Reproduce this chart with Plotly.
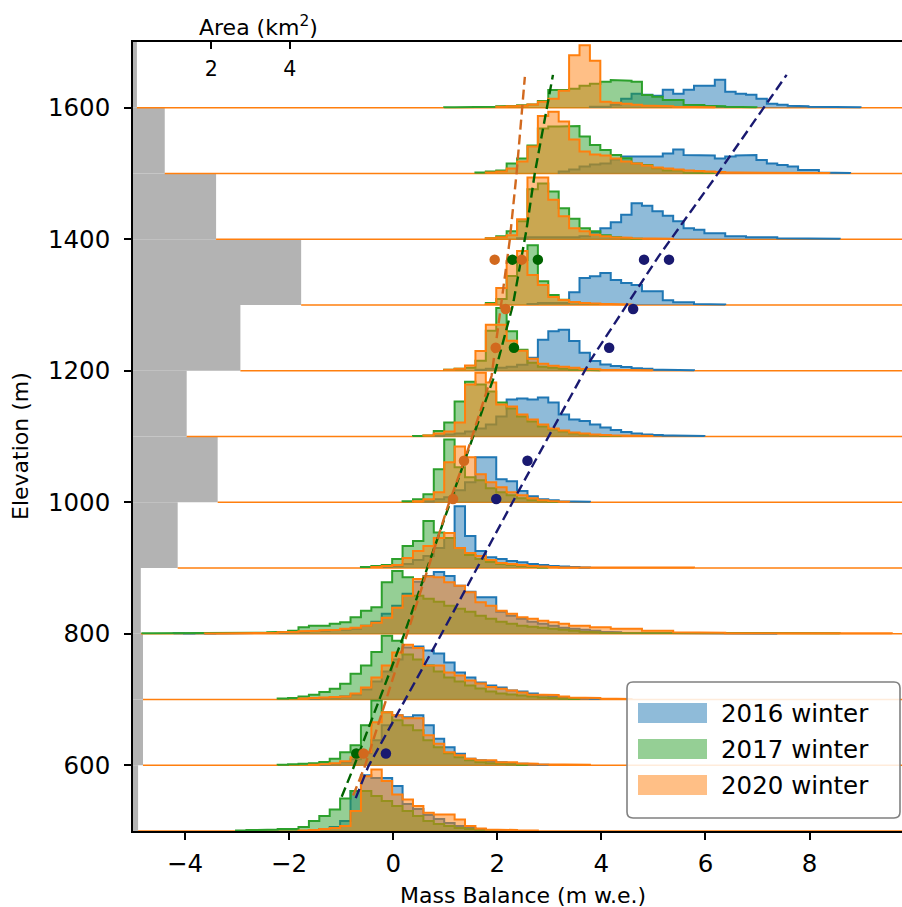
import plotly.graph_objects as go

# ---------------- data ----------------
BIN_WIDTH = 0.2  # m w.e.
band_bottoms = [500, 600, 700, 800, 900, 1000, 1100, 1200, 1300, 1400, 1500, 1600]
band_area_km2 = [0.13, 0.255, 0.255, 0.20, 1.14, 2.16, 1.37, 2.74, 4.29, 2.12, 0.81, 0.10]

years = ["2016 winter", "2017 winter", "2020 winter"]

# histogram per band: (left edge of first bin, relative frequency per bin)
hist_2016 = {
    1600: (3.78, [1, 1, 3, 9, 14, 13, 12, 18, 14, 18, 22, 22, 28, 16, 14, 13, 9, 4, 3, 2, 1.5, 1, 1, 1, 0.5, 0.5]),
    1500: (3.18, [2, 4, 7, 9, 10, 14, 17, 17, 17, 17, 20, 24, 18.6, 18, 18, 15, 17, 18, 18.6, 13.6, 10, 8.6, 7, 3.6, 3.6, 1, 1, 0.5]),
    1400: (2.38, [1, 2, 2, 2, 2, 2, 3, 7, 11, 17, 24.5, 36, 33.5, 28, 23.5, 18, 11, 9.5, 6, 6, 3, 3, 2, 2, 2, 1, 1, 1, 1, 0.5, 0.5]),
    1300: (2.58, [1, 2, 2, 2, 12.7, 27, 28.7, 32, 25, 22, 20, 13.7, 13.7, 4.7, 2.7, 2.7, 1, 1, 0.5]),
    1200: (1.58, [1, 2, 3, 4, 6, 13, 31, 39.7, 41, 29.7, 18, 9.7, 6.3, 4.7, 3.7, 2.5, 2, 1, 1, 0.5, 0.5]),
    1100: (0.78, [1, 2, 3, 5, 8, 12, 20, 37, 38, 37, 39, 34, 22, 17, 15.5, 12, 9, 6.5, 4.5, 3, 2, 1.5, 1, 1, 0.5, 0.5]),
    1000: (0.58, [1, 3, 5, 12, 20, 45, 45, 23, 21, 11.4, 6, 3, 2, 1, 1, 0.5]),
    900: (-0.22, [1, 2, 4, 8, 12, 20, 30, 62, 32, 17, 10.7, 9, 7, 5.7, 4, 3, 2, 1.5, 1, 0.5]),
    800: (-4.22, [0.5, 0.3, 0.5, 0.3, 0.5, 0.5, 0.5, 0.5, 0.5,
                  0.5, 1, 1.5, 2, 2.5, 3, 3.5, 4, 5, 8, 12, 20, 28, 40, 52, 58, 62, 58, 48, 42, 36.6, 36.6,
                  22, 18, 15, 12, 10, 8, 6, 5, 4, 3, 2, 1.5, 1, 1, 0.5,
                  0.5, 0.5, 0.3, 0.3, 0.3, 0.5, 0.3, 0.3, 0.3, 0.5, 0.3, 0.3]),
    700: (-1.62, [1, 1.5, 2, 3, 5, 10, 18, 28, 40, 52, 53, 49, 46, 37, 27, 22, 17, 14, 12, 9, 8, 6, 4, 3, 2, 1.5, 1, 0.5]),
    600: (-1.42, [0.5, 1, 3, 6, 12, 25, 40, 50, 48, 50, 40, 26.6, 18, 11.6, 6.6, 5, 4, 3, 2, 1.5, 1, 0.5]),
    500: (-1.62, [1, 2, 4, 10, 40, 56, 53, 53, 45, 27, 22, 16, 12, 8, 5, 3, 2, 1, 0.5]),
}
hist_2017 = {
    1600: (0.98, [0.5, 0.5, 0.5, 1, 1, 1.5, 2, 2.5, 3.3, 6.7, 17.7, 17.7, 19, 22, 24, 26, 27.7, 27, 26, 12.7,
                  11, 7.7, 7.7, 3, 2.7, 2, 1.5, 1, 1, 0.5]),
    1500: (1.58, [1, 2, 3, 10, 15, 28, 45, 47, 47, 47.6, 37, 28.6, 23.6, 18.6, 15.3, 10, 8.6, 5.3, 3, 3, 1, 1, 0.5]),
    1400: (1.78, [1, 3, 8, 18, 50, 56, 47.8, 31, 20.5, 11, 8, 4, 2, 1, 0.5]),
    1300: (1.78, [2, 6, 29, 45, 60, 23.7, 10, 5.3, 3, 2, 1, 1]),
    1200: (0.98, [1, 2, 3, 10, 40, 63, 39.7, 21, 8, 4, 3, 2, 1, 1, 0.5]),
    1100: (0.38, [0.5, 1, 5.5, 14, 35, 55, 52, 45, 34, 28, 20, 15, 10, 7, 5, 3, 2, 1.5, 1, 0.5]),
    1000: (0.18, [1, 3, 8, 33, 63, 35, 25, 22, 14, 10, 7, 4, 2, 1, 0.5]),
    900: (-0.62, [1, 2, 3, 9, 22, 27, 47, 35.7, 30, 20, 13, 9, 6, 4, 3, 2, 1, 0.5]),
    800: (-4.82, [0.5, 0.5, 0.5, 0.5, 0.5, 0.5, 0.5, 0.5, 1, 1, 1, 1, 1.5, 2, 3, 6.6, 8, 8, 10, 11.6, 16.6, 23,
                  26.6, 51.6, 63, 56.6, 38, 35, 32, 28, 25, 22, 18, 15, 12, 10, 8, 7, 6, 5, 4, 3, 2, 1.5, 1, 1,
                  0.5, 0.5, 0.5, 0.3, 0.3, 0.5, 0.3, 0.3, 0.3, 0.5, 0.3, 0.3, 0.3, 0.3, 0.5, 0.5, 0.3, 0.3, 0.3,
                  0.5, 0.5]),
    700: (-2.22, [1, 1.5, 3, 4.8, 7.5, 10.8, 15.8, 25.8, 34, 47.5, 64, 59, 45, 40, 34, 28, 22, 18, 14, 11, 8,
                  6, 5, 4, 3, 2, 1.5, 1, 0.5]),
    600: (-2.22, [0.5, 1, 1.5, 2, 3.3, 6.6, 13, 20, 40, 65, 53, 45, 40, 35, 25, 18, 12, 8, 5, 3, 2, 1.5, 1, 0.5]),
    500: (-3.02, [0.5, 1, 1, 1.5, 2, 2, 4, 10, 15, 21.6, 32.6, 40, 40, 35, 30, 25, 20, 15, 10, 7, 5, 3, 2, 1, 0.5]),
}
hist_2020 = {
    1600: (1.98, [1, 1.5, 2, 3.3, 6, 9, 17, 52.7, 62.7, 47, 6, 5, 4, 3, 2, 2, 1.5, 1, 1, 0.5, 0.5]),
    1500: (1.78, [1, 2, 5, 12, 27, 57.6, 62, 52, 34, 22, 19, 18, 15, 12, 10, 8, 6, 5, 4, 3, 2.5, 2, 1.5, 1, 1, 1,
                  1, 0.5, 0.5, 0.5, 0.5, 0.5, 0.5]),
    1400: (1.78, [1, 2, 4, 20, 62, 62, 39.5, 23, 11, 8, 4.5, 3, 2, 1.5, 1, 1, 0.5, 0.5]),
    1300: (1.78, [1, 17, 44, 54, 30, 20, 8, 5, 3, 2, 1.5, 1, 1, 0.5]),
    1200: (0.98, [1, 2, 5.3, 19.7, 46, 46, 30, 20, 12, 7, 5, 4, 3, 2, 1.5, 1, 1, 1, 0.5, 0.5]),
    1100: (0.58, [1, 3, 5, 14, 52, 64, 54, 32, 30, 22, 17, 12, 8, 6, 4, 3, 2, 1.5, 1, 1, 0.5, 0.5]),
    1000: (0.38, [1, 3, 10, 40, 55.8, 45, 28, 20, 15, 10, 7, 4, 2, 1, 0.5]),
    900: (-0.42, [1, 2, 3, 10, 17, 22, 30, 35, 20, 15, 12, 8, 5, 4, 3, 2, 1.5, 1, 0.5, 0.5, 0.5, 0.3, 0.5, 0.5,
                  0.3, 0.3, 0.5, 0.5, 0.3, 0.3, 0.5]),
    800: (-3.62, [0.3, 0.3, 0.5,
                  0.5, 0.5, 1, 1, 1.5, 2, 2.5, 3, 3.5, 4, 5, 6, 8, 11, 16, 26, 38, 55, 57.5, 56.6, 51.6, 48,
                  41.6, 31.6, 28, 23, 20, 16.6, 15, 13, 11.6, 10, 8, 8, 6.6, 6.6, 5, 5, 5, 3, 3, 3, 1.5, 1.5,
                  1.5, 1, 1, 0.5, 0.5,
                  0.5, 0.5, 0.3, 0.5, 0.5, 0.3, 0.5, 0.5, 0.3, 0.3, 0.5, 0.5, 0.3, 0.5]),
    700: (-1.82, [1, 1.5, 2, 2.5, 3, 6, 12, 22, 34, 47, 55, 51.5, 34, 34, 27, 24, 19, 16, 12.5, 10.8, 9, 7, 5,
                  4.5, 4.5, 3, 2, 2, 1.5, 1, 1, 0.5]),
    600: (-1.62, [0.5, 1, 2, 4, 8, 13, 43, 53, 50, 47, 47, 30, 21.6, 13, 10, 6.6, 5, 5, 3, 3, 2, 1.5, 1, 1,
                  0.5, 0.5, 0.5]),
    500: (-1.82, [0.5, 1, 2, 3, 5, 20, 55, 61.7, 50, 36.6, 31.6, 25, 18.3, 16.6, 16.6, 11.6, 5, 2.6, 1.5, 1, 1,
                  0.5, 0.5]),
}

# stake measurements (mass balance, elevation)
stakes_2016_mb = [4.82, 5.30, 4.61, 4.15, 2.58, 1.98, -0.14]
stakes_2016_z = [1369, 1369, 1294, 1235, 1063, 1005, 618]
stakes_2017_mb = [2.29, 2.78, 2.32, -0.71]
stakes_2017_z = [1369, 1369, 1235, 618]
stakes_2020_mb = [1.95, 2.47, 2.16, 1.97, 1.36, 1.15, -0.57]
stakes_2020_z = [1369, 1369, 1294, 1235, 1063, 1005, 618]

# fitted gradients (elevation, mass balance)
fit_2016_z = [550, 598, 800, 1020, 1217, 1374, 1490, 1650]
fit_2016_mb = [-0.72, -0.48, 0.93, 2.43, 3.80, 5.10, 6.15, 7.56]
fit_2017_z = [552, 595, 797, 1005, 1187, 1300, 1414, 1500, 1650]
fit_2017_mb = [-0.99, -0.77, 0.20, 1.12, 1.92, 2.30, 2.56, 2.72, 3.07]
fit_2020_z = [554, 598, 797, 995, 1065, 1192, 1399, 1500, 1647]
fit_2020_mb = [-0.77, -0.546, 0.256, 1.055, 1.376, 1.89, 2.24, 2.37, 2.53]

x_ticks = [-4, -2, 0, 2, 4, 6, 8]
y_ticks = [600, 800, 1000, 1200, 1400, 1600]
area_ticks = [2, 4]

# ---------------- style ----------------
W, H = 902, 907
ML, MR, MT, MB = 133, 0, 42, 76
XR = [-5.0, 9.777]
AREA_R = [0.0, 19.62]
YR = [500, 1700]
BAND_H = 100
HEIGHT_SCALE = 100 / 65.9  # elevation metres per frequency unit
FONT = "DejaVu Sans"

line_colors = ["#1f77b4", "#2ca02c", "#ff7f0e"]
fill_colors = ["rgba(31,119,180,0.5)", "rgba(44,160,44,0.5)", "rgba(255,127,14,0.5)"]
dot_colors = ["#191970", "#006400", "#d2691e"]

fig = go.Figure()


def step_polygon(base, start, heights):
    xs, ys = [start], [base]
    for i, h in enumerate(heights):
        x0 = start + i * BIN_WIDTH
        xs += [x0, x0 + BIN_WIDTH]
        ys += [base + h * HEIGHT_SCALE] * 2
    xs.append(start + len(heights) * BIN_WIDTH)
    ys.append(base)
    return xs, ys


for b in band_bottoms:
    for k, hist in enumerate([hist_2016, hist_2017, hist_2020]):
        start, heights = hist[b]
        xs, ys = step_polygon(b, start, heights)
        fig.add_trace(go.Scatter(
            x=xs, y=ys, mode="lines", fill="toself", fillcolor=fill_colors[k],
            line=dict(color=line_colors[k], width=2), hoverinfo="skip", showlegend=False))

for k, (fz, fmb) in enumerate([(fit_2016_z, fit_2016_mb), (fit_2017_z, fit_2017_mb), (fit_2020_z, fit_2020_mb)]):
    fig.add_trace(go.Scatter(x=fmb, y=fz, mode="lines",
                             line=dict(color=dot_colors[k], width=2.4, dash="10px,5px"),
                             showlegend=False, hoverinfo="skip"))

for k, (smb, sz) in enumerate([(stakes_2016_mb, stakes_2016_z), (stakes_2017_mb, stakes_2017_z),
                               (stakes_2020_mb, stakes_2020_z)]):
    fig.add_trace(go.Scatter(x=smb, y=sz, mode="markers",
                             marker=dict(color=dot_colors[k], size=10.5, line=dict(width=0)),
                             showlegend=False, hoverinfo="skip"))

# invisible trace so the top area axis is active
fig.add_trace(go.Scatter(x=[0], y=[YR[0]], xaxis="x2", yaxis="y", mode="markers",
                         marker=dict(size=1, opacity=0), showlegend=False, hoverinfo="skip"))

shapes = []
for b, a in zip(band_bottoms, band_area_km2):
    shapes.append(dict(type="rect", xref="x2", yref="y", x0=0, x1=a, y0=b, y1=b + BAND_H,
                       fillcolor="#b3b3b3", line=dict(width=0), layer="below"))
    shapes.append(dict(type="line", xref="x2", yref="y", x0=a, x1=AREA_R[1], y0=b, y1=b,
                       line=dict(color="#ff7f0e", width=1.5), layer="below"))

# legend (drawn manually, matplotlib style)
pw = W - ML - MR
ph = H - MT - MB


def px_x(x):
    return (x - ML) / pw


def px_y(y):
    return (H - MB - y) / ph


lx0, lx1, ly0, ly1, r = 627, 900, 682, 818, 6
rx, ry = r / pw, r / ph
X0, X1, Y0, Y1 = px_x(lx0), px_x(lx1), px_y(ly1), px_y(ly0)
path = (f"M{X0 + rx},{Y0} L{X1 - rx},{Y0} Q{X1},{Y0} {X1},{Y0 + ry} L{X1},{Y1 - ry} "
        f"Q{X1},{Y1} {X1 - rx},{Y1} L{X0 + rx},{Y1} Q{X0},{Y1} {X0},{Y1 - ry} "
        f"L{X0},{Y0 + ry} Q{X0},{Y0} {X0 + rx},{Y0} Z")
shapes.append(dict(type="path", xref="paper", yref="paper", path=path,
                   fillcolor="rgba(255,255,255,0.85)", line=dict(color="#808080", width=1.6), layer="above"))
annotations = []
for k, name in enumerate(years):
    cy = 713 + k * 36
    shapes.append(dict(type="rect", xref="paper", yref="paper", x0=px_x(638), x1=px_x(707),
                       y0=px_y(cy + 10), y1=px_y(cy - 10), fillcolor=fill_colors[k],
                       line=dict(width=0), layer="above"))
    annotations.append(dict(x=px_x(719), y=px_y(cy), xref="paper", yref="paper", text=name,
                            showarrow=False, xanchor="left", yanchor="middle",
                            font=dict(size=24.5, color="black", family=FONT)))

annotations.append(dict(x=px_x(523), y=px_y(895), xref="paper", yref="paper", text="Mass Balance (m w.e.)",
                        showarrow=False, xanchor="center", yanchor="middle",
                        font=dict(size=22, color="black", family=FONT)))
annotations.append(dict(x=px_x(20), y=px_y(446), xref="paper", yref="paper", text="Elevation (m)",
                        showarrow=False, xanchor="center", yanchor="middle", textangle=-90,
                        font=dict(size=22, color="black", family=FONT)))
annotations.append(dict(x=px_x(258), y=px_y(26), xref="paper", yref="paper", text="Area (km<sup>2</sup>)",
                        showarrow=False, xanchor="center", yanchor="middle",
                        font=dict(size=22, color="black", family=FONT)))

fig.update_layout(
    width=W, height=H, margin=dict(l=ML, r=MR, t=MT, b=MB, pad=0),
    paper_bgcolor="white", plot_bgcolor="white", showlegend=False,
    font=dict(family=FONT, color="black"),
    xaxis=dict(range=XR, tickvals=x_ticks, ticks="outside", ticklen=7, tickwidth=1.6, tickcolor="black",
               showline=True, linecolor="black", linewidth=1.6, mirror=False, showgrid=False, zeroline=False,
               tickfont=dict(size=24.5, family=FONT, color="black"), ticklabelstandoff=3),
    xaxis2=dict(range=AREA_R, overlaying="x", side="top", anchor="y", tickvals=area_ticks, ticks="inside",
                ticklabelposition="inside", ticklen=7, tickwidth=1.6, tickcolor="black", showline=True,
                linecolor="black", linewidth=1.6, showgrid=False, zeroline=False,
                tickfont=dict(size=20.6, family=FONT, color="black"), ticklabelstandoff=14),
    yaxis=dict(range=YR, tickvals=y_ticks, ticks="outside", ticklen=7, tickwidth=1.6, tickcolor="black",
               showline=True, linecolor="black", linewidth=1.6, mirror=False, showgrid=False, zeroline=False,
               tickfont=dict(size=24.5, family=FONT, color="black"), ticklabelstandoff=9),
    shapes=shapes, annotations=annotations,
)

fig.write_html("out.html")
